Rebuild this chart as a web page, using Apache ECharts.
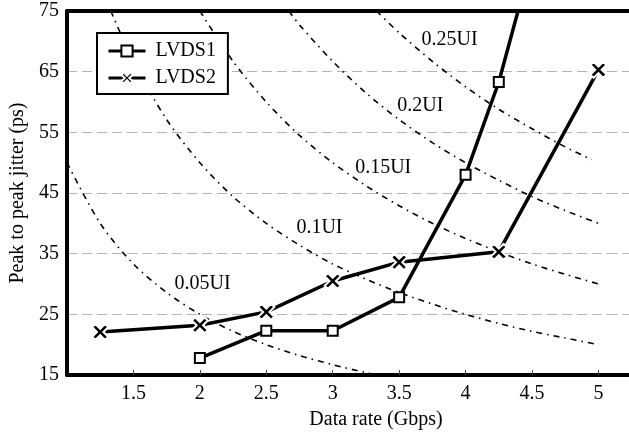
<!DOCTYPE html>
<html>
<head>
<meta charset="utf-8">
<script src="https://cdn.jsdelivr.net/npm/echarts@6/dist/echarts.min.js"></script>
<style>
html, body { margin: 0; padding: 0; background: #fff; }
#main { width: 629px; height: 435px; }
</style>
</head>
<body>
<div id="main"></div>
<script>
// measured series, [data rate Gbps, jitter ps]
var lvds1 = [[2, 17.8], [2.5, 22.3], [3, 22.3], [3.5, 27.8], [4, 48], [4.25, 63.3], [4.5, 83.5]];
var lvds2 = [[1.25, 22.1], [2, 23.2], [2.5, 25.4], [3, 30.5], [3.5, 33.6], [4.25, 35.3], [5, 65.3]];

// constant-UI reference curves
var ui005 = [[1, 50], [1.25, 40], [1.5, 33.3], [1.75, 28.6], [2, 25], [2.25, 22.2], [2.5, 20], [2.75, 18.2], [3, 16.7], [3.25, 15.4], [3.5, 14.3]];
var ui010 = [[1.33, 75], [1.5, 66.7], [1.75, 57.1], [2, 50], [2.25, 44.4], [2.5, 40], [2.75, 36.4], [3, 33.3], [3.25, 30.8], [3.5, 28.6], [3.75, 26.7], [4, 25], [4.25, 23.5], [4.5, 22.2], [4.75, 21.1], [5, 20]];
var ui015 = [[2, 75], [2.25, 66.7], [2.5, 60], [2.75, 54.5], [3, 50], [3.25, 46.2], [3.5, 42.9], [3.75, 40], [4, 37.5], [4.25, 35.3], [4.5, 33.3], [4.75, 31.6], [5, 30]];
var ui020 = [[2.67, 75], [2.75, 72.7], [3, 66.7], [3.25, 61.5], [3.5, 57.1], [3.75, 53.3], [4, 50], [4.25, 47.1], [4.5, 44.4], [4.75, 42.1], [5, 40]];
var ui025 = [[3.33, 75], [3.5, 71.4], [3.75, 66.7], [4, 62.5], [4.25, 58.8], [4.5, 55.6], [4.75, 52.6], [4.95, 50.5]];
var curveLabels = [[2.02, 30.0, '0.05UI'], [2.90, 39.3, '0.1UI'], [3.38, 49.2, '0.15UI'], [3.66, 59.4, '0.2UI'], [3.88, 70.2, '0.25UI']];

var xMin = 1, xMax = 5.23, xStep = 0.5;
var yMin = 15, yMax = 75, yStep = 10;

var font = 'Liberation Serif';
var crossPath = 'path://M0,3.2L3.2,0L8,4.8L12.8,0L16,3.2L11.2,8L16,12.8L12.8,16L8,11.2L3.2,16L0,12.8L4.8,8Z';

function uiCurve(name, data) {
    return {
        name: name,
        type: 'line',
        data: data,
        smooth: 0.3,
        symbol: 'none',
        silent: true,
        z: 1,
        lineStyle: { color: '#000', width: 1.6, type: [6, 5, 1.5, 5] }
    };
}

var myChart = echarts.init(document.getElementById('main'));
var option = {
    animation: false,
    textStyle: { fontFamily: font },
    grid: { left: 61.5, right: 0, top: 11, bottom: 59 },
    legend: {
        data: ['LVDS1', 'LVDS2'],
        orient: 'vertical',
        left: 97,
        top: 33,
        padding: [8, 12, 6, 10],
        itemWidth: 37,
        itemHeight: 14,
        itemGap: 7,
        backgroundColor: '#fff',
        borderColor: '#000',
        borderWidth: 2,
        borderRadius: 0,
        lineStyle: { width: 3 },
        textStyle: { fontFamily: font, fontSize: 20, color: '#000', padding: [0, 0, 0, 5] }
    },
    xAxis: [{
        type: 'value',
        min: xMin,
        max: xMax,
        interval: xStep,
        name: 'Data rate (Gbps)',
        nameLocation: 'middle',
        nameGap: 35,
        nameTextStyle: { fontFamily: font, fontSize: 20, color: '#000', padding: [0, 0, 0, 56] },
        axisLine: { onZero: false, lineStyle: { color: '#000', width: 4 } },
        axisTick: { inside: true, length: 5, lineStyle: { color: '#444', width: 1 } },
        axisLabel: { fontFamily: font, fontSize: 20, color: '#000', margin: 9, showMinLabel: false, showMaxLabel: false },
        splitLine: { show: false }
    }, {
        type: 'value',
        position: 'top',
        min: xMin,
        max: xMax,
        axisLine: { onZero: false, lineStyle: { color: '#000', width: 4 } },
        axisTick: { show: false },
        axisLabel: { show: false },
        splitLine: { show: false }
    }],
    yAxis: {
        type: 'value',
        min: yMin,
        max: yMax,
        interval: yStep,
        name: 'Peak to peak jitter (ps)',
        nameLocation: 'middle',
        nameGap: 39,
        nameTextStyle: { fontFamily: font, fontSize: 20, color: '#000' },
        axisLine: { show: true, onZero: false, lineStyle: { color: '#000', width: 4 } },
        axisTick: { show: false },
        axisLabel: { fontFamily: font, fontSize: 20, color: '#000', margin: 8 },
        splitLine: { show: true, lineStyle: { color: '#b4b4b4', width: 1, type: [10, 5] } }
    },
    series: [
        uiCurve('0.05UI', ui005),
        uiCurve('0.1UI', ui010),
        uiCurve('0.15UI', ui015),
        uiCurve('0.2UI', ui020),
        uiCurve('0.25UI', ui025),
        {
            name: 'labels',
            type: 'scatter',
            data: curveLabels,
            symbolSize: 0,
            silent: true,
            z: 3,
            itemStyle: { color: '#000', opacity: 1 },
            label: {
                show: true,
                position: 'inside',
                fontFamily: font,
                fontSize: 20,
                color: '#000',
                textBorderWidth: 0,
                formatter: function (p) { return p.value[2]; }
            }
        },
        {
            name: 'LVDS1',
            type: 'line',
            data: lvds1,
            z: 5,
            symbol: 'rect',
            symbolSize: 10,
            lineStyle: { color: '#000', width: 3.5 },
            itemStyle: { color: '#fff', borderColor: '#000', borderWidth: 2 }
        },
        {
            name: 'LVDS2',
            type: 'line',
            data: lvds2,
            z: 5,
            symbol: crossPath,
            symbolSize: 16,
            lineStyle: { color: '#000', width: 3.5 },
            itemStyle: { color: '#000', borderColor: '#fff', borderWidth: 2 }
        }
    ]
};
myChart.setOption(option);
</script>
</body>
</html>
